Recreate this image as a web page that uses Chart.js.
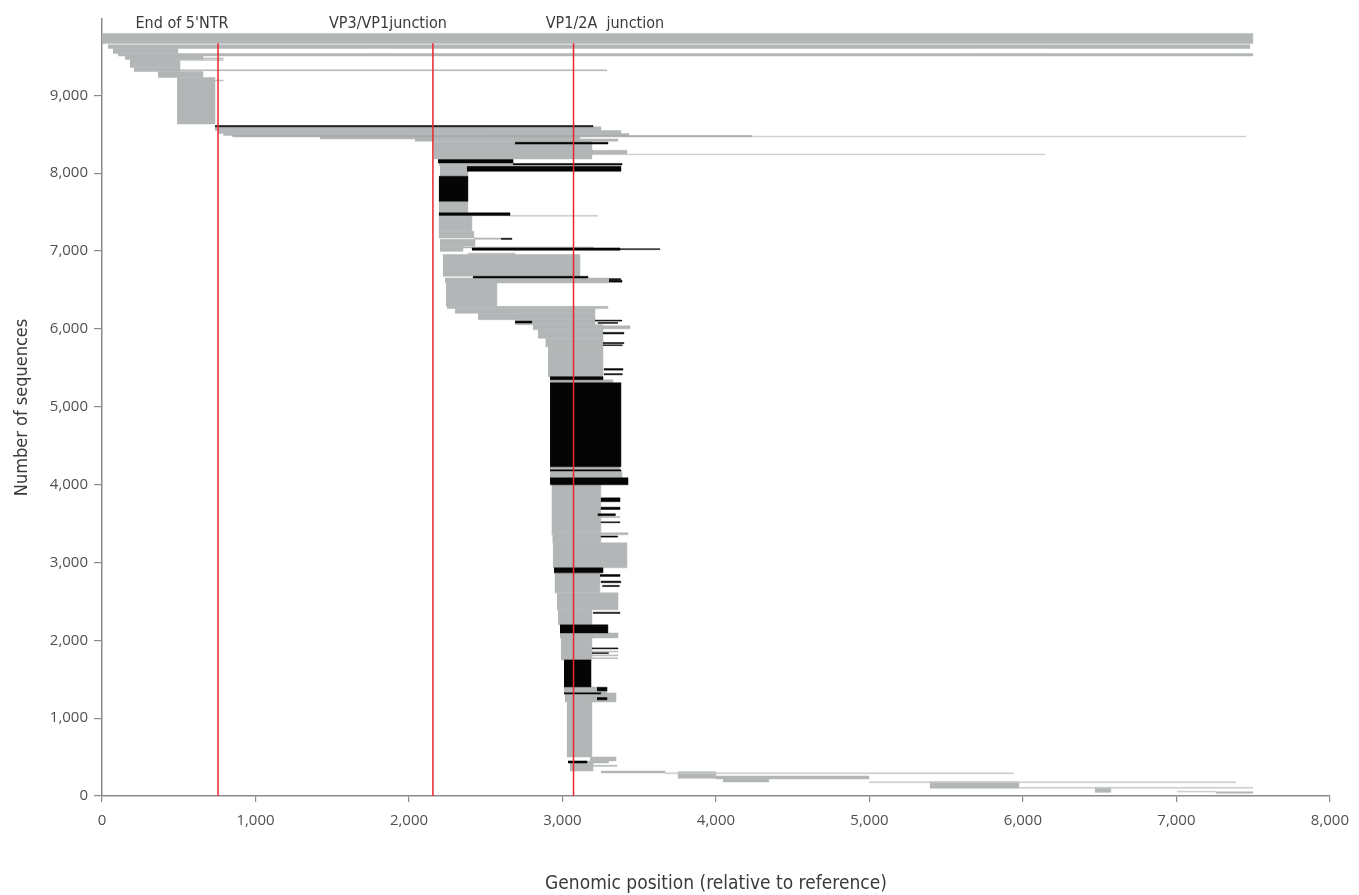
<!DOCTYPE html>
<html>
<head>
<meta charset="utf-8">
<script src="https://cdn.jsdelivr.net/npm/chart.js@4.4.1/dist/chart.umd.min.js"></script>
<style>
  html, body { margin: 0; padding: 0; background: #fff; }
  #wrap { width: 1359px; height: 895px; }
</style>
</head>
<body>
<div id="wrap"><canvas id="coverage" width="1359" height="895"></canvas></div>
<script>
// Read coverage blocks: [first sequence, last sequence, start position, end position]
const grayBlocks = [
  [9666, 9794, 0, 7498], [9602, 9650, 39, 7479], [9537, 9602, 72, 495],
  [9505, 9537, 104, 7498], [9460, 9505, 150, 658], [9357, 9460, 182, 508],
  [9306, 9357, 208, 508], [9316, 9328, 508, 3290], [9230, 9306, 365, 658],
  [8631, 9230, 489, 736], [9472, 9480, 658, 790], [9450, 9458, 508, 790],
  [9186, 9196, 736, 790],
  [8548, 8595, 736, 3251], [8509, 8548, 760, 3381], [8483, 8509, 790, 3433],
  [8440, 8466, 1420, 3114], [8410, 8440, 2039, 3362], [8183, 8410, 2160, 3192],
  [8239, 8294, 3192, 3420], [8101, 8132, 2195, 2678], [8024, 8101, 2202, 2378],
  [7960, 8024, 2202, 2384], [7490, 7639, 2195, 2384], [7253, 7446, 2195, 2410],
  [7168, 7253, 2195, 2423], [7150, 7168, 2423, 2671], [7060, 7150, 2202, 2430],
  [6996, 7060, 2202, 2352], [7040, 7052, 2352, 3200], [6954, 6972, 2384, 2691],
  [6675, 6954, 2221, 3114], [6590, 6654, 2235, 3303], [6289, 6590, 2241, 2573],
  [6260, 6289, 2248, 3296], [6200, 6260, 2300, 3212], [6118, 6200, 2450, 3212],
  [6054, 6118, 2691, 3212], [5990, 6054, 2808, 3264], [6000, 6040, 3264, 3440],
  [5880, 5990, 2840, 3264], [5771, 5880, 2890, 3264], [5386, 5771, 2906, 3264],
  [5308, 5347, 2919, 3329], [4190, 4229, 2919, 3375], [4087, 4175, 2919, 3388],
  [3380, 3997, 2930, 3250], [3355, 3380, 2930, 3427], [3575, 3590, 3250, 3375],
  [3252, 3355, 2935, 3250], [2931, 3252, 2938, 3420], [2609, 2866, 2950, 3244],
  [2391, 2609, 2964, 3362], [2198, 2391, 2971, 3192], [2031, 2095, 2984, 3362],
  [1902, 2031, 2990, 3192], [1748, 1902, 2990, 3192], [1850, 1860, 3192, 3362],
  [1800, 1812, 3192, 3362], [1765, 1775, 3192, 3362], [1324, 1401, 3010, 3290],
  [1208, 1324, 3016, 3349], [501, 1208, 3029, 3192], [450, 501, 3180, 3349],
  [424, 450, 3160, 3300], [321, 424, 3049, 3199], [380, 395, 3199, 3355],
  [296, 321, 3251, 3668], [227, 312, 3752, 4000], [219, 257, 4000, 4997],
  [180, 219, 4046, 4345], [99, 184, 5394, 5974], [47, 107, 6469, 6573],
  [35, 55, 7257, 7498]
];

const shadedBlocks = [
  [8466, 8483, 850, 4235]
];

const blackBlocks = [
  [8595, 8612, 736, 3199], [8374, 8397, 2691, 3296], [8132, 8175, 2189, 2678],
  [8105, 8125, 2678, 3388], [8024, 8089, 2378, 3381], [7639, 7960, 2195, 2384],
  [7455, 7490, 2195, 2658], [7150, 7162, 2600, 2671], [7009, 7040, 2410, 3375],
  [7018, 7030, 3375, 3635], [6654, 6675, 2417, 3166], [6600, 6625, 3303, 3388],
  [6630, 6645, 3303, 3380], [6100, 6112, 3212, 3388], [6075, 6100, 2691, 2800],
  [6070, 6082, 3230, 3360], [5935, 5955, 3264, 3400], [5810, 5825, 3264, 3400],
  [5785, 5795, 3264, 3390], [5470, 5490, 3270, 3394], [5410, 5425, 3270, 3390],
  [5347, 5386, 2919, 3264], [4229, 5308, 2919, 3381], [4175, 4190, 2919, 3381],
  [3997, 4087, 2919, 3427], [3780, 3830, 3250, 3375], [3680, 3710, 3250, 3375],
  [3600, 3625, 3230, 3345], [3510, 3522, 3250, 3375], [3325, 3340, 3250, 3360],
  [2866, 2931, 2945, 3264], [2820, 2845, 3244, 3375], [2740, 2760, 3250, 3380],
  [2690, 2705, 3260, 3370], [2345, 2360, 3199, 3375], [2095, 2198, 2984, 3296],
  [1890, 1902, 3192, 3362], [1830, 1840, 3192, 3300], [1401, 1748, 3010, 3186],
  [1350, 1395, 3225, 3290], [1310, 1325, 3010, 3250], [1235, 1265, 3225, 3290],
  [424, 450, 3036, 3160]
];

const faintLines = [
  [8466, 8476, 4235, 7453], [8236, 8246, 3420, 6143], [7446, 7458, 2658, 3231],
  [286, 298, 3668, 5941], [171, 183, 4997, 7388], [99, 111, 5974, 7498],
  [50, 62, 7003, 7257]
];

// Genome landmarks
const junctions = [756, 2156, 3072];
const junctionTop = 9670;
const junctionLabels = ["End of 5'NTR", "VP3/VP1junction", "VP1/2A  junction"];
const labelCentres = [521, 1863, 3277];

// Axis ticks
const xTicks = [0, 1000, 2000, 3000, 4000, 5000, 6000, 7000, 8000];
const yTicks = [0, 1000, 2000, 3000, 4000, 5000, 6000, 7000, 8000, 9000];

const GRAY = '#b3b6b7';
const SHADE = '#9ea1a2';
const FAINT = '#c6c9c9';
const BLACK = '#050505';
const RED = '#e8262c';

const datasets = [];
function addBlocks(list, color, order) {
  list.forEach(([n0, n1, s, e]) => {
    datasets.push({
      data: [{ x: s, y: n0 }, { x: e, y: n0 }, { x: e, y: n1 }, { x: s, y: n1 }],
      showLine: true,
      fill: 'shape',
      backgroundColor: color,
      borderColor: color,
      borderWidth: 0.5,
      pointRadius: 0,
      pointHoverRadius: 0,
      order
    });
  });
}
addBlocks(grayBlocks, GRAY, 4);
addBlocks(shadedBlocks, SHADE, 3);
addBlocks(faintLines, FAINT, 3);
addBlocks(blackBlocks, BLACK, 2);

junctions.forEach(v => {
  datasets.push({
    data: [{ x: v, y: 0 }, { x: v, y: junctionTop }],
    showLine: true,
    fill: false,
    borderColor: RED,
    borderWidth: 1.5,
    pointRadius: 0,
    pointHoverRadius: 0,
    order: 0
  });
});

const fmt = v => String(v).replace(/\B(?=(\d{3})+(?!\d))/g, ',');
const narrow = '"Liberation Sans Narrow", "DejaVu Sans Condensed", "Roboto", sans-serif';
const tickFont = { family: '"Open Sans", "DejaVu Sans", sans-serif', size: 15 };

const junctionLabelPlugin = {
  id: 'junctionLabels',
  afterDraw(chart) {
    const { ctx, chartArea, scales } = chart;
    ctx.save();
    ctx.font = '16px ' + narrow;
    ctx.fillStyle = '#3a3a3a';
    ctx.textAlign = 'center';
    ctx.textBaseline = 'middle';
    junctionLabels.forEach((t, i) => {
      ctx.fillText(t, scales.x.getPixelForValue(labelCentres[i]), chartArea.top + 5);
    });
    ctx.restore();
  }
};

new Chart(document.getElementById('coverage'), {
  type: 'scatter',
  data: { datasets },
  plugins: [junctionLabelPlugin],
  options: {
    responsive: false,
    animation: false,
    events: [],
    layout: { padding: { top: 19, right: 29, left: 0, bottom: 0 } },
    plugins: { legend: { display: false }, tooltip: { enabled: false } },
    scales: {
      x: {
        type: 'linear',
        min: 0,
        max: 8000,
        afterBuildTicks: s => { s.ticks = xTicks.map(v => ({ value: v })); },
        afterFit: s => { s.height = 99; },
        ticks: {
          autoSkip: false,
          maxRotation: 0,
          padding: 10,
          color: '#505050',
          font: tickFont,
          callback: v => fmt(v)
        },
        grid: { drawOnChartArea: false, drawTicks: true, tickLength: 6, color: '#8a8a8a', lineWidth: 1.2 },
        border: { color: '#8a8a8a', width: 1.5 },
        title: {
          display: true,
          text: 'Genomic position (relative to reference)',
          color: '#3a3a3a',
          font: { family: narrow, size: 19 },
          padding: { top: 0, bottom: 0 }
        }
      },
      y: {
        type: 'linear',
        min: 0,
        max: 9980,
        afterBuildTicks: s => { s.ticks = yTicks.map(v => ({ value: v })); },
        afterFit: s => { s.width = 102; },
        ticks: {
          autoSkip: false,
          padding: 6,
          color: '#505050',
          font: tickFont,
          callback: v => fmt(v)
        },
        grid: { drawOnChartArea: false, drawTicks: true, tickLength: 8, color: '#8a8a8a', lineWidth: 1.2 },
        border: { color: '#8a8a8a', width: 1.5 },
        title: {
          display: true,
          text: 'Number of sequences',
          color: '#3a3a3a',
          font: { family: narrow, size: 18 },
          padding: { top: 12, bottom: 0 }
        }
      }
    }
  }
});
</script>
</body>
</html>
